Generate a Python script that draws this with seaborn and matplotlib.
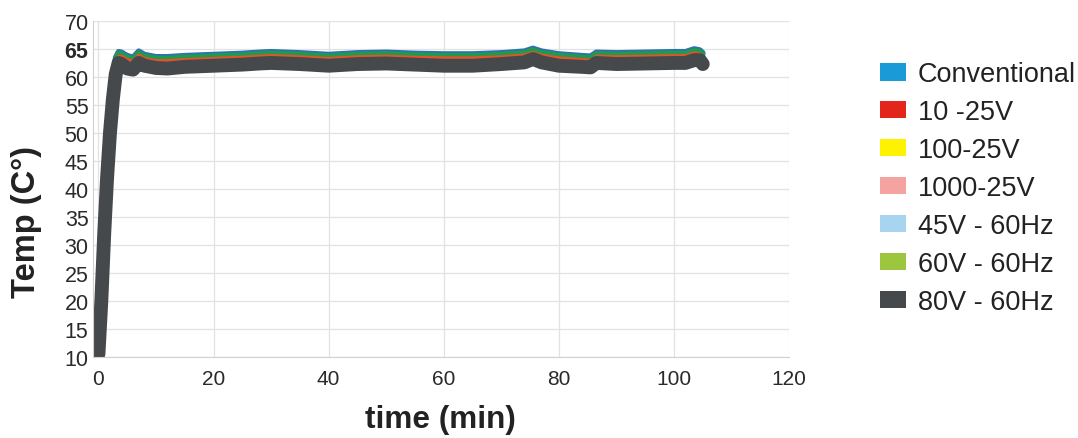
import numpy as np
import pandas as pd
import matplotlib
matplotlib.use("Agg")
import matplotlib.pyplot as plt
from matplotlib.patches import Patch
import seaborn as sns

# ---- data ----
time_min = [0, 0.5, 1, 1.5, 2, 2.5, 3, 3.5, 4, 5, 6, 7, 8, 10, 12, 15, 20, 25, 28, 30,
            35, 40, 45, 50, 55, 60, 65, 70, 74, 75.5, 77, 80, 84, 85.5, 86.5, 90, 95, 100, 102, 103.5, 104.5, 105]

gray_80v = [10.5, 20, 32, 42, 50, 56, 60.5, 62.5, 62.3, 61.5, 61.3, 62.5, 62.0, 61.6, 61.5, 61.8, 62.0, 62.2, 62.4, 62.5,
            62.3, 62.0, 62.3, 62.4, 62.2, 62.0, 62.0, 62.3, 62.6, 63.2, 62.6, 62.0, 61.8, 61.7, 62.5, 62.3, 62.4, 62.5, 62.5, 63.0, 63.0, 62.3]
red_10_25 = [10.5, 21, 33, 44, 52, 58, 62.5, 63.6, 63.6, 63.0, 62.7, 63.8, 63.2, 62.8, 62.8, 63.0, 63.2, 63.4, 63.6, 63.7,
             63.5, 63.2, 63.5, 63.6, 63.4, 63.3, 63.3, 63.5, 63.8, 64.3, 63.8, 63.3, 63.0, 62.9, 63.6, 63.5, 63.6, 63.7, 63.7, 64.2, 64.0, 63.5]
green_60v = [10.5, 22, 34, 45, 53, 59, 63.2, 64.2, 64.1, 63.5, 63.2, 64.3, 63.7, 63.3, 63.3, 63.5, 63.7, 63.9, 64.1, 64.2,
             64.0, 63.7, 64.0, 64.1, 63.9, 63.8, 63.8, 64.0, 64.3, 64.8, 64.3, 63.8, 63.5, 63.4, 64.1, 64.0, 64.1, 64.2, 64.2, 64.7, 64.5, 64.0]
blue_conv = [10.5, 22.5, 34.5, 45.5, 53.5, 59.5, 63.5, 64.5, 64.4, 63.8, 63.5, 64.6, 64.0, 63.6, 63.6, 63.8, 64.0, 64.2, 64.4, 64.5,
             64.3, 64.0, 64.3, 64.4, 64.2, 64.1, 64.1, 64.3, 64.6, 65.1, 64.6, 64.1, 63.8, 63.7, 64.4, 64.3, 64.4, 64.5, 64.5, 65.0, 64.8, 64.3]

legend_labels = ["Conventional", "10 -25V", "100-25V", "1000-25V", "45V - 60Hz", "60V - 60Hz", "80V - 60Hz"]
legend_colors = ["#1a9bd7", "#e3261c", "#fff200", "#f4a3a0", "#a7d5ef", "#9dc63f", "#46494c"]

x_ticks = [0, 20, 40, 60, 80, 100, 120]
y_ticks = [10, 15, 20, 25, 30, 35, 40, 45, 50, 55, 60, 65, 70]

# ---- plot ----
sns.set_style("whitegrid")
plt.rcParams['font.family'] = ['Liberation Sans', 'DejaVu Sans']

fig = plt.figure(figsize=(10.78, 4.39), dpi=100)
ax = fig.add_axes([0.086, 0.185, 0.646, 0.765])

df = pd.DataFrame({"t": time_min, "blue": blue_conv, "green": green_60v,
                   "red": red_10_25, "gray": gray_80v})

sns.lineplot(data=df, x="t", y="blue", ax=ax, color="#2f6fb5", lw=4, solid_capstyle="round", solid_joinstyle="round")
sns.lineplot(data=df, x="t", y="green", ax=ax, color="#1f9a4f", lw=4, solid_capstyle="round", solid_joinstyle="round")
sns.lineplot(data=df, x="t", y="red", ax=ax, color="#e8522a", lw=3, solid_capstyle="round", solid_joinstyle="round")
sns.lineplot(data=df, x="t", y="gray", ax=ax, color="#46494c", lw=10, solid_capstyle="round", solid_joinstyle="round")

ax.set_xlim(-1, 120)
ax.set_ylim(10, 70)
ax.set_xticks(x_ticks)
ax.set_yticks(y_ticks)
ax.set_xticklabels([str(v) for v in x_ticks], fontsize=15, color="#2a2a2a")
ax.set_yticklabels([str(v) for v in y_ticks], fontsize=15.5, color="#2a2a2a")
for lab in ax.get_yticklabels():
    if lab.get_text() == "65":
        lab.set_fontweight("bold")
ax.tick_params(axis="x", length=0, pad=9)
ax.tick_params(axis="y", length=0, pad=3)
ax.grid(True, color="#e2e2e2", lw=0.9)
for s in ["top", "right"]:
    ax.spines[s].set_visible(False)
ax.spines["left"].set_color("#d0d0d0")
ax.spines["bottom"].set_color("#d0d0d0")

ax.set_xlabel("time (min)", fontsize=22.7, fontweight="bold", color="#222222", labelpad=11)
ax.set_ylabel("Temp (C°)", fontsize=23.5, fontweight="bold", color="#222222")
ax.yaxis.set_label_coords(-0.073, 0.405)

handles = [Patch(facecolor=c, edgecolor="none") for c in legend_colors]
fig.legend(handles, legend_labels, loc="upper left", bbox_to_anchor=(0.816, 0.858),
           frameon=False, fontsize=19.5, handlelength=0.97, handleheight=0.62,
           labelspacing=0.44, handletextpad=0.45, labelcolor="#222222",
           borderaxespad=0, borderpad=0)

fig.savefig("out.png", dpi=100)
